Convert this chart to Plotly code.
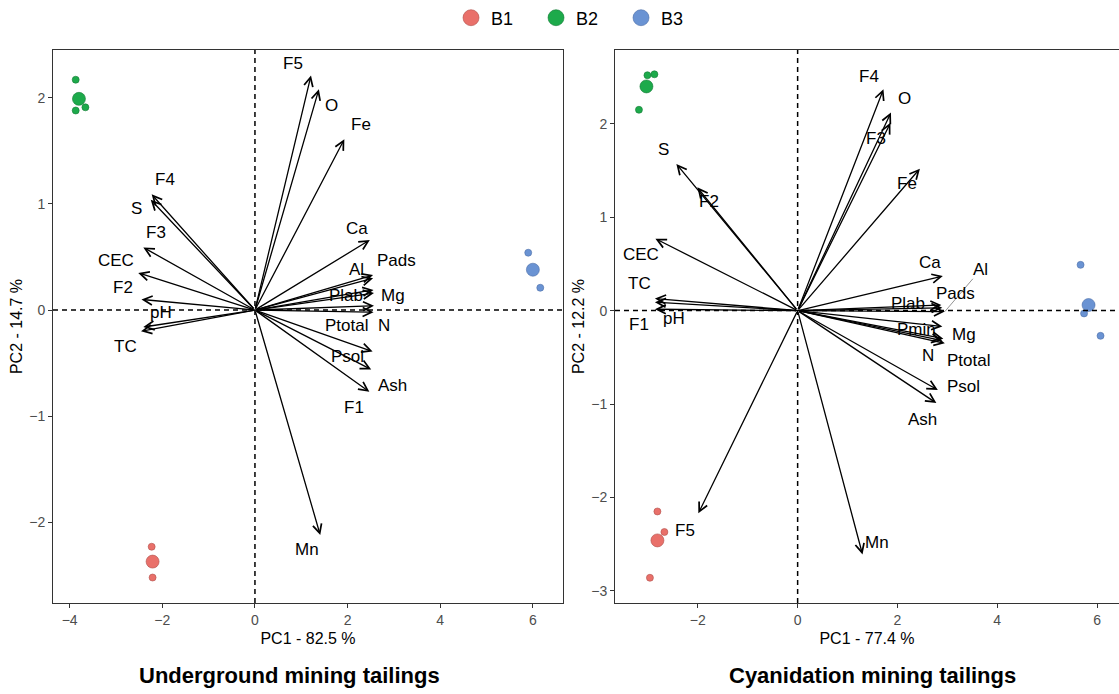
import plotly.graph_objects as go

# ---------------- data ----------------
groups = ["B1", "B2", "B3"]
group_colors = ["#E9706A", "#1DAA4B", "#6A93D3"]
group_edges = ["#B0504B", "#147A36", "#4D6FA8"]

# Underground mining tailings: individual scores and centroids
u_scores_x = {"B1": [-2.23, -2.21], "B2": [-3.87, -3.87, -3.66], "B3": [5.90, 6.16]}
u_scores_y = {"B1": [-2.23, -2.52], "B2": [2.17, 1.88, 1.91], "B3": [0.54, 0.21]}
u_cent_x = {"B1": -2.21, "B2": -3.80, "B3": 6.00}
u_cent_y = {"B1": -2.37, "B2": 1.99, "B3": 0.38}

u_vars = ["F5", "O", "Fe", "Ca", "Al", "Pads", "Plab", "Mg", "N", "Ptotal", "Psol",
          "Ash", "F1", "Mn", "F4", "S", "F3", "CEC", "F2", "pH", "TC"]
u_pc1 = [1.21, 1.38, 1.93, 2.48, 2.55, 2.55, 2.56, 2.57, 2.57, 2.56, 2.54,
         2.51, 2.47, 1.41, -2.23, -2.25, -2.41, -2.52, -2.45, -2.41, -2.46]
u_pc2 = [2.21, 2.08, 1.61, 0.66, 0.33, 0.30, 0.19, 0.16, 0.04, -0.02, -0.39,
         -0.56, -0.77, -2.12, 1.09, 1.04, 0.59, 0.35, 0.10, -0.16, -0.20]
u_lab_x = [0.83, 1.66, 2.30, 2.20, 2.20, 3.06, 1.97, 2.99, 2.79, 1.98, 2.00,
           2.98, 2.14, 1.12, -1.94, -2.56, -2.14, -3.00, -2.85, -2.02, -2.79]
u_lab_y = [2.32, 1.93, 1.75, 0.77, 0.38, 0.47, 0.14, 0.14, -0.15, -0.15, -0.44,
           -0.71, -0.92, -2.26, 1.23, 0.96, 0.73, 0.47, 0.21, -0.02, -0.34]

# Cyanidation mining tailings
c_scores_x = {"B1": [-2.81, -2.67, -2.96], "B2": [-3.01, -2.87, -3.18], "B3": [5.67, 5.74, 6.07]}
c_scores_y = {"B1": [-2.15, -2.37, -2.86], "B2": [2.52, 2.53, 2.15], "B3": [0.49, -0.03, -0.27]}
c_cent_x = {"B1": -2.81, "B2": -3.03, "B3": 5.83}
c_cent_y = {"B1": -2.46, "B2": 2.40, "B3": 0.06}

c_vars = ["F4", "O", "F3", "Fe", "S", "F2", "CEC", "TC", "pH", "F1", "Ca", "Al",
          "Pads", "Plab", "Pmin", "Mg", "N", "Ptotal", "Psol", "Ash", "F5", "Mn"]
c_pc1 = [1.72, 1.87, 1.86, 2.45, -2.43, -2.01, -2.85, -2.86, -2.86, -2.86, 2.91, 2.95,
         2.90, 2.88, 2.90, 2.92, 2.90, 2.95, 2.81, 2.78, -1.99, 1.30]
c_pc2 = [2.37, 2.12, 2.01, 1.52, 1.57, 1.32, 0.77, 0.13, 0.09, 0.015, 0.37, -0.01,
         0.03, 0.06, -0.17, -0.30, -0.32, -0.35, -0.85, -0.99, -2.17, -2.61]
c_lab_x = [1.44, 2.14, 1.57, 2.19, -2.69, -1.77, -3.13, -3.17, -2.48, -3.17, 2.66, 3.67,
           3.17, 2.21, 2.39, 3.34, 2.61, 3.42, 3.32, 2.50, -2.26, 1.59]
c_lab_y = [2.51, 2.27, 1.84, 1.36, 1.72, 1.17, 0.60, 0.29, -0.08, -0.15, 0.51, 0.44,
           0.18, 0.08, -0.20, -0.26, -0.48, -0.53, -0.81, -1.17, -2.35, -2.48]

x_titles = ["PC1 - 82.5 %", "PC1 - 77.4 %"]
y_titles = ["PC2 - 14.7 %", "PC2 - 12.2 %"]
panel_titles = ["Underground mining tailings", "Cyanidation mining tailings"]

# ---------------- figure ----------------
FONT = "Arial, Liberation Sans, sans-serif"
fig = go.Figure()

panels = [
    ("x", "y", u_scores_x, u_scores_y, u_cent_x, u_cent_y, u_vars, u_pc1, u_pc2, u_lab_x, u_lab_y),
    ("x2", "y2", c_scores_x, c_scores_y, c_cent_x, c_cent_y, c_vars, c_pc1, c_pc2, c_lab_x, c_lab_y),
]

annotations = []
shapes = []
for xa, ya, sx, sy, cx, cy, vars_, p1, p2, lx, ly in panels:
    axn = xa.replace("x", "")
    shapes.append(dict(type="line", xref=xa, yref=f"y{axn} domain", x0=0, x1=0, y0=0, y1=1,
                       line=dict(color="black", width=1.5, dash="5px,4px")))
    shapes.append(dict(type="line", xref=f"x{axn} domain", yref=ya, x0=0, x1=1, y0=0, y1=0,
                       line=dict(color="black", width=1.5, dash="5px,4px")))
    for g, col, edge in zip(groups, group_colors, group_edges):
        fig.add_trace(go.Scatter(x=sx[g], y=sy[g], xaxis=xa, yaxis=ya, mode="markers",
                                 marker=dict(size=7, color=col, line=dict(color=edge, width=0.6)),
                                 showlegend=False, hoverinfo="skip"))
        fig.add_trace(go.Scatter(x=[cx[g]], y=[cy[g]], xaxis=xa, yaxis=ya, mode="markers",
                                 marker=dict(size=13, color=col, line=dict(color=edge, width=0.6)),
                                 showlegend=False, hoverinfo="skip"))
    for v, a, b, tx, ty in zip(vars_, p1, p2, lx, ly):
        annotations.append(dict(x=a, y=b, xref=xa, yref=ya, ax=0, ay=0, axref=xa, ayref=ya,
                                text="", showarrow=True, arrowhead=5, arrowsize=1.35,
                                arrowwidth=1.3, arrowcolor="black", standoff=0))
        annotations.append(dict(x=tx, y=ty, xref=xa, yref=ya, text=v, showarrow=False,
                                font=dict(family=FONT, size=17, color="black")))

# leader line for Al label (cyanidation panel)
ia = c_vars.index("Al")
shapes.append(dict(type="line", xref="x2", yref="y2",
                   x0=c_pc1[ia], y0=c_pc2[ia],
                   x1=c_pc1[ia] + 0.78 * (c_lab_x[ia] - c_pc1[ia]),
                   y1=c_pc2[ia] + 0.78 * (c_lab_y[ia] - c_pc2[ia]),
                   line=dict(color="#777777", width=0.8)))

# legend entries
for g, col, edge in zip(groups, group_colors, group_edges):
    fig.add_trace(go.Scatter(x=[None], y=[None], mode="markers", name=g,
                             marker=dict(size=16, color=col, line=dict(color=edge, width=0.6))))

# panel titles
for xd, t in zip([0.2223, 0.7692], panel_titles):
    annotations.append(dict(x=xd, y=-0.132, xref="paper", yref="paper", text=f"<b>{t}</b>",
                            showarrow=False, xanchor="center", yanchor="middle",
                            font=dict(family=FONT, size=22, color="black")))

axis_common = dict(showgrid=False, zeroline=False, showline=True, mirror=True,
                   linecolor="#333333", linewidth=1, ticks="outside", ticklen=4,
                   tickcolor="#333333", tickwidth=1,
                   tickfont=dict(family=FONT, size=14, color="#4D4D4D"))

fig.update_layout(
    width=1119, height=694,
    margin=dict(l=53, r=0, t=50, b=91),
    paper_bgcolor="white", plot_bgcolor="white",
    annotations=annotations, shapes=shapes,
    xaxis=dict(domain=[0, 0.4784], range=[-4.36, 6.65], tickvals=[-4, -2, 0, 2, 4, 6],
               title=dict(text=x_titles[0], font=dict(family=FONT, size=16, color="black"), standoff=6),
               anchor="y", **axis_common),
    yaxis=dict(domain=[0, 1], range=[-2.76, 2.45], tickvals=[-2, -1, 0, 1, 2],
               title=dict(text=y_titles[0], font=dict(family=FONT, size=16, color="black"), standoff=2),
               anchor="x", **axis_common),
    xaxis2=dict(domain=[0.5272, 1], range=[-3.66, 6.44], tickvals=[-2, 0, 2, 4, 6],
                title=dict(text=x_titles[1], font=dict(family=FONT, size=16, color="black"), standoff=6),
                anchor="y2", **axis_common),
    yaxis2=dict(domain=[0, 1], range=[-3.13, 2.79], tickvals=[-3, -2, -1, 0, 1, 2],
                title=dict(text=y_titles[1], font=dict(family=FONT, size=16, color="black"), standoff=2),
                anchor="x2", **axis_common),
    legend=dict(orientation="h", xref="container", yref="container", x=0.517, y=1 - 18 / 694,
                xanchor="center", yanchor="middle", entrywidth=40, entrywidthmode="pixels",
                font=dict(family=FONT, size=18, color="black"), itemsizing="trace"),
    showlegend=True,
)

fig.write_html("out.html")
